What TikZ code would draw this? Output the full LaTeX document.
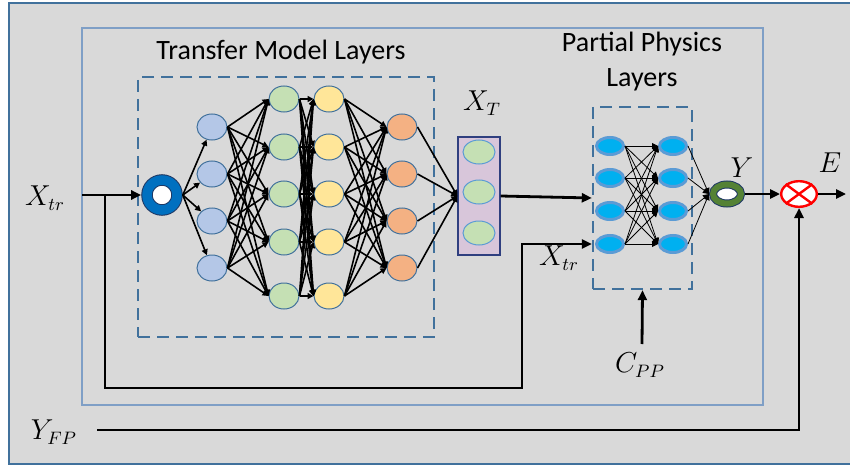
\documentclass[tikz,border=0pt]{standalone}
\usepackage{fontspec}
\setmainfont{Carlito}
\usetikzlibrary{arrows.meta,shapes.geometric}
\definecolor{bgray}{HTML}{D9D9D9}
\definecolor{frameblue}{HTML}{41719C}
\definecolor{innerframe}{HTML}{7F9FC6}
\definecolor{edgeblue}{HTML}{41719C}
\definecolor{navy}{HTML}{1F3864}
\definecolor{ringblue}{HTML}{0070C0}
\definecolor{ygreen}{HTML}{548235}
\definecolor{lblue}{HTML}{B4C7E7}
\definecolor{lgreen}{HTML}{C5E0B4}
\definecolor{lyellow}{HTML}{FFE699}
\definecolor{lorange}{HTML}{F4B183}
\definecolor{ppfill}{HTML}{00B0F0}
\definecolor{ppedge}{HTML}{5B9BD5}
\definecolor{boxfill}{HTML}{D8C6DA}
\definecolor{boxedge}{HTML}{2F3F7F}
\begin{document}
\begin{tikzpicture}[x=0.5pt, y=-0.5pt,
    >={Triangle[length=3pt,width=3pt]},
    neuron/.style={ellipse, draw=edgeblue, line width=0.5pt, inner sep=0pt,
        minimum width=15pt, minimum height=13pt},
    ppneuron/.style={ellipse, draw=ppedge, fill=ppfill, line width=1.5pt,
        inner sep=0pt, minimum width=13.5pt, minimum height=8.5pt},
    link/.style={->, line width=0.8pt},
    thinlink/.style={->, line width=0.4pt},
    wire/.style={-{Triangle[length=5pt,width=4.5pt]}, line width=1.4pt},
    lbl/.style={inner sep=0pt, font=\fontsize{13.5}{16}\selectfont},
    title/.style={font=\fontsize{14}{17.5}\selectfont, align=center},
    dashbox/.style={draw=frameblue, line width=1.2pt, dash pattern=on 6pt off 3.5pt,
        inner sep=0pt}]
    % Frames
    \useasboundingbox (0,0) rectangle (850,465);
    \fill[bgray] (9,3) rectangle (852,464);
    \draw[frameblue, line width=0.8pt] (852,3) -- (9,3) -- (9,464) -- (852,464);
    \draw[innerframe, line width=0.8pt] (82,28) rectangle (763,405);
    % Titles
    \node[title] (tmtitle) at (281,52) {Transfer Model Layers};
    \node[title] (pptitle) at (642,62) {Partial Physics\\Layers};
    % Dashed boxes
    \node[dashbox, minimum width=148pt, minimum height=130pt] (tmbox) at (286,207) {};
    \node[dashbox, minimum width=49.5pt, minimum height=91pt] (ppbox) at (642.5,198) {};
    % Input ring
    \node[circle, draw=navy, double=ringblue, double distance=4.75pt, line width=0.5pt,
        fill=white, minimum size=15pt, inner sep=0pt, outer sep=2.9pt] (inring) at (162,195) {};
    % Transfer model neurons
    \foreach \i/\y in {1/127,2/174,3/221,4/268}
        \node[neuron, fill=lblue] (a\i) at (212,\y) {};
    \foreach \i/\y in {1/99,2/147,3/194,4/242,5/296} {
        \node[neuron, fill=lgreen] (b\i) at (284,\y) {};
        \node[neuron, fill=lyellow] (c\i) at (329,\y) {};
    }
    \foreach \i/\y in {1/127,2/174,3/221,4/268}
        \node[neuron, fill=lorange] (d\i) at (402,\y) {};
    \foreach \i in {1,...,4}
        \draw[link] (inring.east) -- (a\i);
    \foreach \i in {1,...,4}
        \foreach \j in {1,...,5}
            \draw[link] (a\i.east) -- (b\j.west);
    \foreach \i in {1,...,5}
        \foreach \j in {1,...,5}
            \draw[link] (b\i.east) -- (c\j.west);
    \foreach \i in {1,...,5}
        \foreach \j in {1,...,4}
            \draw[link] (c\i.east) -- (d\j.west);
    % Transferred features
    \node[draw=boxedge, fill=boxfill, line width=0.6pt, inner sep=0pt,
        minimum width=21pt, minimum height=59pt] (xtbox) at (479,196) {};
    \foreach \i/\y in {1/152,2/192,3/233}
        \node[neuron, draw=ppedge, fill=lgreen, minimum width=16pt, minimum height=12pt] (t\i) at (479,\y) {};
    \node[lbl] (xtlabel) at (482,103) {$X_T$};
    \foreach \i in {1,...,4}
        \draw[link] (d\i.east) -- (xtbox.west);
    \draw[wire] (xtbox.east) -- (ppbox.west);
    % Partial physics neurons
    \foreach \i/\y in {1/146,2/178,3/211,4/244} {
        \node[ppneuron] (p\i) at (610,\y) {};
        \node[ppneuron] (q\i) at (673,\y) {};
    }
    \node[ellipse, draw=navy, double=ygreen, double distance=3pt, line width=0.5pt,
        fill=white, minimum width=14pt, minimum height=9.5pt, inner sep=0pt, outer sep=2pt] (yring) at (727,194) {};
    \foreach \i in {1,...,4}
        \foreach \j in {1,...,4}
            \draw[thinlink] (p\i.east) -- (q\j.west);
    \foreach \i in {1,...,4}
        \draw[thinlink] (q\i.east) -- (yring.west);
    \node[lbl] (ylabel) at (742,168) {$Y$};
    % Error
    \node[ellipse, draw=red, fill=white, line width=1.2pt, inner sep=0pt,
        minimum width=17.8pt, minimum height=12.8pt] (err) at (799,194) {};
    \draw[red, line width=1.2pt] (err.north east) -- (err.south west)
        (err.north west) -- (err.south east);
    \node[lbl] (elabel) at (830,163) {$E$};
    \coordinate (eout) at (846,194);
    \draw[wire] (yring.east) -- (err.west);
    \draw[wire] (err.east) -- (eout);
    % Inputs
    \node[lbl] (xtr) at (45,198) {$X_{tr}$};
    \coordinate (xin) at (82,195);
    \coordinate (split) at (105,195);
    \coordinate (bend) at (522,388);
    \draw[wire] (xin) -- (inring.west);
    \draw[wire] (split) |- (bend) |- (ppbox.west |- p4);
    \node[lbl] (xtr2) at (559,258) {$X_{tr}$};
    \node[lbl] (cpp) at (640,365) {$C_{PP}$};
    \coordinate (cppin) at (642,344);
    \draw[wire] (cppin) -- (ppbox.south);
    \node[lbl] (yfp) at (54,432) {$Y_{FP}$};
    \coordinate (yfpin) at (97,430);
    \draw[wire] (yfpin) -| (err.south);
\end{tikzpicture}
\end{document}
